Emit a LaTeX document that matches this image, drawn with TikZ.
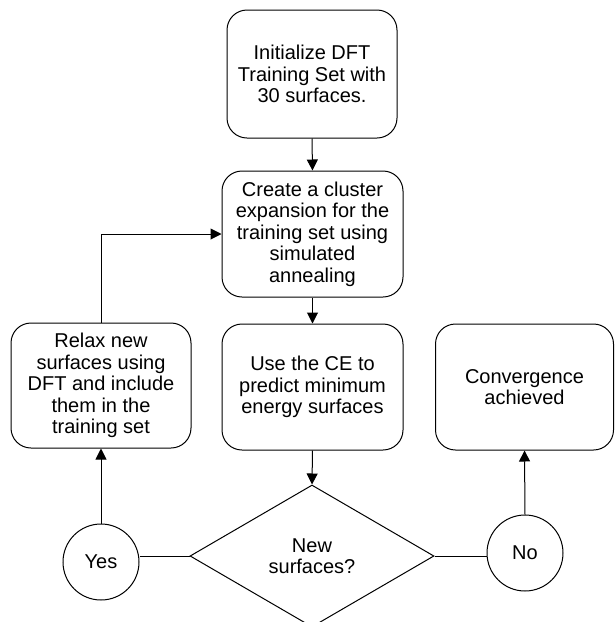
\documentclass[tikz,border=0pt]{standalone}
\usepackage{fontspec}
\setmainfont{Liberation Sans}
\usetikzlibrary{arrows.meta,shapes.geometric}
\begin{document}
\begin{tikzpicture}[x=1pt,y=-1pt,
  every node/.style={font=\fontsize{20}{21.5}\selectfont, align=center, inner sep=0pt},
  stepbox/.style={draw, line width=1pt, rectangle, rounded corners=20pt},
  decision/.style={draw, line width=1pt, diamond, minimum width=244pt, minimum height=142pt},
  answer/.style={draw, line width=1pt, circle, minimum size=76pt},
  conn/.style={line width=1pt},
  arr/.style={conn, -{Triangle[length=11pt,width=11pt]}}]
\useasboundingbox (0,0) rectangle (615,622);
\node[stepbox, minimum width=170pt, minimum height=128pt] (init) at (312,74) {Initialize DFT\\Training Set with\\30 surfaces.};
\node[stepbox, minimum width=181pt, minimum height=126pt] (ce) at (312.5,234) {Create a cluster\\expansion for the\\training set using\\simulated\\annealing};
\node[stepbox, minimum width=180pt, minimum height=125pt] (relax) at (101,385.5) {Relax new\\surfaces using\\DFT and include\\them in the\\training set};
\node[stepbox, minimum width=181pt, minimum height=126pt] (pred) at (312.5,387) {Use the CE to\\predict minimum\\energy surfaces};
\node[stepbox, minimum width=178pt, minimum height=126pt] (conv) at (524.5,387) {Convergence\\achieved};
\node[decision] (dec) at (312,556) {New\\surfaces?};
\node[answer] (yes) at (101,562) {Yes};
\node[answer] (no) at (525,553) {No};
\draw[arr] (init.south) -- (ce.north);
\draw[arr] (ce.south) -- (pred.north);
\draw[arr] (pred.south) -- (dec.north);
\draw[conn] (dec.west) -- (yes.east |- dec.west);
\draw[conn] (dec.east) -- (no.west |- dec.east);
\draw[arr] (yes.north) -- (relax.south);
\draw[arr] (no.north) -- (conv.south);
\draw[arr] (relax.north) |- (ce.west);
\end{tikzpicture}
\end{document}
